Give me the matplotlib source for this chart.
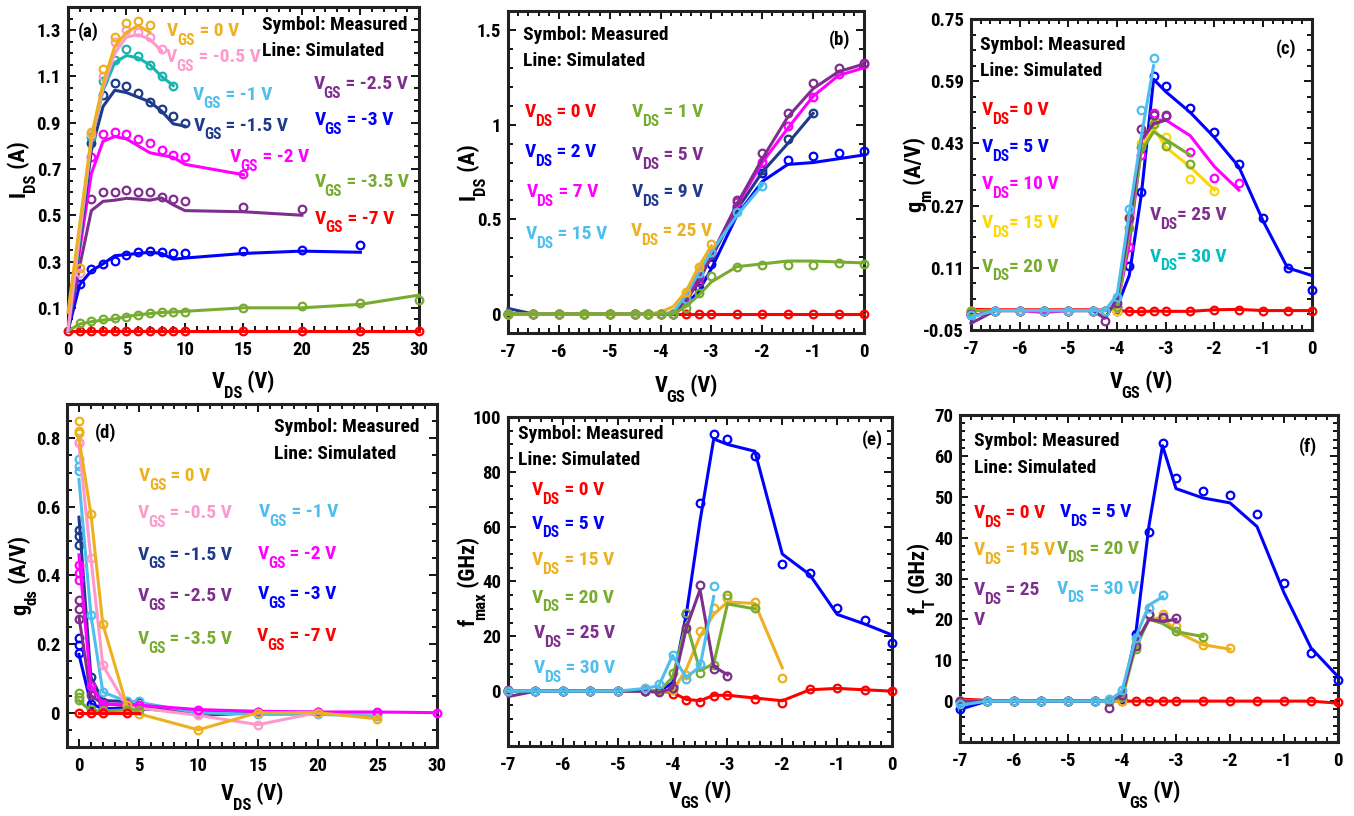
import numpy as np
import matplotlib
matplotlib.use('Agg')
import matplotlib.pyplot as plt
import matplotlib.transforms as mtransforms
from matplotlib import font_manager as fm
from matplotlib.ticker import AutoMinorLocator, FuncFormatter

# narrow bold sans for everything (Helvetica-condensed look)
have = {f.name for f in fm.fontManager.ttflist}
narrow = next((n for n in ['Roboto Condensed', 'Liberation Sans Narrow', 'Open Sans Condensed',
                           'Noto Sans Condensed'] if n in have), 'Liberation Sans')
plt.rcParams['font.family'] = [narrow, 'DejaVu Sans']
plt.rcParams['font.weight'] = 'bold'
plt.rcParams['axes.unicode_minus'] = False

#---- MATLAB-ish colours ----
c_red = '#FF0000'
c_blue = '#0000FF'
c_navy = '#1F3A8A'
c_mag = '#FF00FF'
c_purp = '#7E2F8E'
c_green = '#77AC30'
c_orng = '#EDB120'
c_pink = '#FF99CC'
c_lblue = '#4DBEEE'
c_teal = '#17B5B0'
c_yell = '#FFD700'
c_cyan = '#00BFBF'

# ---------------- (a) I_DS vs V_DS ----------------
a_vgs0_xm = [1, 2, 3, 4, 5, 6, 7]
a_vgs0_ym = [0.27, 0.86, 1.13, 1.27, 1.33, 1.34, 1.32]
a_vgs0_xs = [0, 1, 2, 3, 4, 5, 6, 7]
a_vgs0_ys = [0.08, 0.46, 0.84, 1.07, 1.23, 1.29, 1.32, 1.29]

a_vgs05_xm = [1, 2, 3, 4, 5, 6, 7, 8]
a_vgs05_ym = [0.25, 0.85, 1.10, 1.25, 1.30, 1.29, 1.27, 1.22]
a_vgs05_xs = [0, 1, 2, 3, 4, 5, 6, 7, 8]
a_vgs05_ys = [0.0, 0.42, 0.82, 1.05, 1.20, 1.27, 1.28, 1.26, 1.21]

a_vgs1_xm = [2, 3, 4, 5, 6, 7, 8, 9]
a_vgs1_ym = [0.84, 1.08, 1.17, 1.22, 1.19, 1.15, 1.10, 1.06]
a_vgs1_xs = [0, 1, 2, 3, 4, 5, 6, 7, 8, 9]
a_vgs1_ys = [0.0, 0.40, 0.82, 1.04, 1.16, 1.19, 1.18, 1.15, 1.10, 1.06]

a_vgs15_xm = [2, 3, 4, 5, 6, 7, 8, 9, 10]
a_vgs15_ym = [0.81, 1.02, 1.07, 1.06, 1.03, 0.99, 0.96, 0.93, 0.90]
a_vgs15_xs = [0, 1, 2, 3, 4, 5, 6, 7, 8, 9, 10]
a_vgs15_ys = [0.0, 0.38, 0.78, 0.97, 1.04, 1.03, 1.01, 0.99, 0.95, 0.895, 0.885]

a_vgs2_xm = [2, 3, 4, 5, 6, 7, 8, 9, 10, 15]
a_vgs2_ym = [0.75, 0.85, 0.86, 0.85, 0.83, 0.81, 0.78, 0.76, 0.75, 0.68]
a_vgs2_xs = [0, 1, 2, 3, 4, 5, 6, 7, 8, 9, 10, 15]
a_vgs2_ys = [0.0, 0.35, 0.68, 0.82, 0.84, 0.83, 0.80, 0.77, 0.76, 0.75, 0.72, 0.675]

a_vgs25_xm = [2, 3, 4, 5, 6, 7, 8, 9, 10, 15, 20]
a_vgs25_ym = [0.57, 0.60, 0.60, 0.61, 0.60, 0.60, 0.58, 0.57, 0.56, 0.535, 0.527]
a_vgs25_xs = [0, 1, 2, 3, 4, 5, 6, 7, 8, 9, 10, 15, 20]
a_vgs25_ys = [0.0, 0.28, 0.52, 0.56, 0.565, 0.573, 0.57, 0.565, 0.575, 0.545, 0.52, 0.515, 0.50]

a_vgs3_xm = [1, 2, 3, 4, 5, 6, 7, 8, 9, 10, 15, 20, 25]
a_vgs3_ym = [0.205, 0.268, 0.29, 0.304, 0.33, 0.34, 0.344, 0.341, 0.337, 0.337, 0.344, 0.349, 0.37]
a_vgs3_xs = [0, 1, 2, 3, 4, 5, 6, 7, 8, 9, 10, 15, 20, 25]
a_vgs3_ys = [0.0, 0.20, 0.26, 0.29, 0.325, 0.33, 0.335, 0.34, 0.335, 0.31, 0.315, 0.335, 0.345, 0.34]

a_vgs35_xm = [1, 2, 3, 4, 5, 6, 7, 8, 9, 10, 15, 20, 25, 30]
a_vgs35_ym = [0.035, 0.043, 0.05, 0.054, 0.06, 0.071, 0.078, 0.083, 0.083, 0.083, 0.10, 0.107, 0.122, 0.133]
a_vgs35_xs = [0, 1, 2, 3, 4, 5, 6, 7, 8, 9, 10, 15, 20, 25, 30]
a_vgs35_ys = [0.0, 0.03, 0.04, 0.047, 0.052, 0.062, 0.07, 0.075, 0.08, 0.082, 0.085, 0.10, 0.10, 0.115, 0.155]

a_vgs7_xm = [0, 1, 2, 3, 4, 5, 6, 7, 8, 9, 10, 15, 20, 25, 30]
a_vgs7_ym = [0.0] * 15
a_vgs7_xs = [0, 30]
a_vgs7_ys = [0.0, 0.0]

# ---------------- (b) I_DS vs V_GS ----------------
vg = [-7, -6.5, -6, -5.5, -5, -4.5, -4.25, -4, -3.75, -3.5, -3.25, -3, -2.5, -2, -1.5, -1, -0.5, 0]

b_vds0_m = [0.0] * 18
b_vds0_s = [0.0] * 18
b_vds1_m = [0, 0, 0, 0, 0, 0, 0, 0, 0, 0.03, 0.11, 0.20, 0.246, 0.257, 0.26, 0.26, 0.27, 0.265]
b_vds1_s = [0, 0, 0, 0, 0, 0, 0, 0, 0, 0.04, 0.10, 0.17, 0.25, 0.265, 0.28, 0.28, 0.275, 0.27]
b_vds2_m = [0, 0, 0, 0, 0, 0, 0, 0, 0, 0.07, 0.137, 0.264, 0.56, 0.744, 0.814, 0.837, 0.853, 0.862]
b_vds2_s = [0, 0, 0, 0, 0, 0, 0, 0, 0, 0.05, 0.12, 0.24, 0.52, 0.70, 0.79, 0.80, 0.82, 0.84]
b_vds5_m = [0, 0, 0, 0, 0, 0, 0, 0, 0, 0.08, 0.17, 0.33, 0.603, 0.849, 1.06, 1.219, 1.298, 1.328]
b_vds5_s = [0, 0, 0, 0, 0, 0, 0, 0, 0, 0.07, 0.17, 0.31, 0.58, 0.82, 1.04, 1.19, 1.28, 1.32]
b_vds7_m = [0, 0, 0, 0, 0, 0, 0, 0, 0, 0.09, 0.19, 0.32, 0.594, 0.805, 0.993, 1.148, 1.268, 1.32]
b_vds7_s = [0, 0, 0, 0, 0, 0, 0, 0, 0, 0.08, 0.18, 0.31, 0.57, 0.80, 0.98, 1.15, 1.26, 1.30]
b_vds9_m = [0, 0, 0, 0, 0, 0, 0, 0, 0, 0.09, 0.20, 0.31, 0.568, 0.761, 0.923, 1.06]
b_vds9_s = [0.03, 0, 0, 0, 0, 0, 0, 0, 0, 0.08, 0.19, 0.30, 0.55, 0.75, 0.90, 1.06]
b_vds15_m = [0, 0, 0, 0, 0, 0, 0, 0, 0, 0.08, 0.216, 0.33, 0.54, 0.677]
b_vds15_s = [0, 0, 0, 0, 0, 0, 0, 0, 0.01, 0.10, 0.22, 0.33, 0.52, 0.68]
b_vds25_m = [0, 0, 0, 0, 0, 0, 0, 0, 0, 0.114, 0.251, 0.369]
b_vds25_s = [0, 0, 0, 0, 0, 0, 0, 0.01, 0.04, 0.12, 0.25, 0.36]

# ---------------- (c) g_m vs V_GS ----------------
c_vds0_m = [0, 0, 0, 0, 0, 0, 0, 0.001, -0.001, -0.001, 0.0, 0.0, 0.0, 0.002, 0.002, 0.0, 0.0, 0.0]
c_vds0_s = [0.003, 0.002, 0.002, 0.002, 0.002, 0.002, 0.001, 0.0, -0.002, -0.003, -0.001, -0.002, -0.002, 0.002, 0.003, 0.0, 0.0, 0.0]
c_vds5_m = [-0.011, 0, 0, 0, 0, 0, 0, 0.0, 0.115, 0.304, 0.603, 0.577, 0.522, 0.46, 0.376, 0.239, 0.11, 0.053]
c_vds5_s = [-0.015, 0, 0, 0, 0, 0, 0, 0.01, 0.09, 0.30, 0.595, 0.563, 0.51, 0.445, 0.37, 0.23, 0.11, 0.09]
c_vds10_m = [-0.01, 0, 0, 0, 0, 0, 0, 0.01, 0.164, 0.40, 0.507, 0.50, 0.409, 0.34, 0.327]
c_vds10_s = [-0.015, 0, 0, -0.005, 0, 0, 0, 0.01, 0.17, 0.42, 0.49, 0.49, 0.45, 0.37, 0.31]
c_vds15_m = [0, 0, 0, 0, 0, 0, 0, -0.002, 0.24, 0.43, 0.486, 0.447, 0.338, 0.307]
c_vds15_s = [0, 0, 0, 0, 0, 0, 0, 0.0, 0.21, 0.42, 0.47, 0.42, 0.37, 0.31]
c_vds20_m = [0, 0, 0, 0, 0, 0, 0, 0.01, 0.213, 0.42, 0.481, 0.423, 0.376]
c_vds20_s = [0, 0, 0, 0, 0, 0, 0, 0.01, 0.20, 0.41, 0.46, 0.44, 0.40]
c_vds25_m = [-0.01, 0, 0, 0, 0, 0, -0.026, 0.02, 0.237, 0.466, 0.503, 0.503]
c_vds25_s = [-0.033, 0, 0, 0, 0, 0, -0.02, 0.03, 0.22, 0.44, 0.48, 0.49]
c_vds30_m = [-0.011, 0, 0, 0, 0, 0, 0.0, 0.036, 0.26, 0.517, 0.65]
c_vds30_s = [-0.017, 0, 0, 0, 0, 0, 0.0, 0.04, 0.25, 0.45, 0.63]

# ---------------- (d) g_ds vs V_DS ----------------
d_vgs0_xm = [0, 0, 0, 1, 2, 4, 5, 10, 15, 20, 25]
d_vgs0_ym = [0.85, 0.82, 0.815, 0.58, 0.258, 0.021, -0.003, -0.05, 0.0, 0.0, -0.018]
d_vgs0_xs = [0, 1, 2, 4, 5, 10, 15, 20, 25]
d_vgs0_ys = [0.80, 0.58, 0.258, 0.021, -0.003, -0.05, 0.0, 0.0, -0.018]
d_vgs05_xm = [0, 0, 1, 2, 4, 5, 10, 15, 20, 25]
d_vgs05_ym = [0.79, 0.785, 0.45, 0.138, 0.02, 0.014, -0.008, -0.035, 0.0, 0.0]
d_vgs05_xs = [0, 1, 2, 4, 5, 10, 15, 20, 25]
d_vgs05_ys = [0.78, 0.45, 0.138, 0.02, 0.014, -0.008, -0.035, 0.0, 0.0]
d_vgs1_xm = [0, 0, 0, 1, 2, 4, 5, 10, 15, 20, 25]
d_vgs1_ym = [0.74, 0.72, 0.704, 0.285, 0.06, 0.034, 0.033, 0.0, -0.003, -0.003, -0.01]
d_vgs1_xs = [0, 1, 2, 4, 5, 10, 15, 20, 25]
d_vgs1_ys = [0.68, 0.285, 0.06, 0.033, 0.03, 0.0, -0.005, -0.005, -0.01]
d_vgs15_xm = [0, 0, 0, 1, 2, 4, 5, 10, 15, 20, 25]
d_vgs15_ym = [0.532, 0.514, 0.49, 0.104, 0.031, 0.03, 0.03, -0.005, 0.0, 0.0, 0.0]
d_vgs15_xs = [0, 1, 2, 4, 5, 10, 15, 20, 25]
d_vgs15_ys = [0.57, 0.104, 0.035, 0.033, 0.03, -0.008, 0.0, 0.0, 0.0]
d_vgs2_xm = [0, 0, 0, 1, 2, 4, 5, 10, 15, 20, 25, 30]
d_vgs2_ym = [0.431, 0.407, 0.387, 0.077, 0.026, 0.025, 0.022, 0.009, 0.003, 0.001, 0.002, 0.0]
d_vgs2_xs = [0, 1, 2, 4, 5, 10, 15, 20, 25, 30]
d_vgs2_ys = [0.46, 0.08, 0.025, 0.025, 0.022, 0.009, 0.004, 0.002, 0.002, 0.0]
d_vgs25_xm = [0, 0, 0, 1, 2, 4, 5, 10, 15, 20]
d_vgs25_ym = [0.329, 0.301, 0.272, 0.051, 0.026, 0.02, 0.02, -0.005, 0.001, 0.001]
d_vgs25_xs = [0, 1, 2, 4, 5, 10, 15, 20]
d_vgs25_ys = [0.28, 0.05, 0.026, 0.02, 0.02, -0.005, 0.001, 0.001]
d_vgs3_xm = [0, 0, 0, 1, 2, 4, 5, 10, 15, 20]
d_vgs3_ym = [0.217, 0.197, 0.173, 0.026, 0.012, 0.012, 0.012, 0.0, 0.0, 0.0]
d_vgs3_xs = [0, 1, 2, 4, 5, 10, 15, 20]
d_vgs3_ys = [0.17, 0.026, 0.012, 0.012, 0.012, 0.0, 0.0, 0.0]
d_vgs35_xm = [0, 0, 0, 1, 2, 4, 5]
d_vgs35_ym = [0.056, 0.046, 0.036, 0.01, 0.007, 0.007, 0.007]
d_vgs35_xs = [0, 1, 2, 4, 5]
d_vgs35_ys = [0.035, 0.005, 0.005, 0.008, 0.008]
d_vgs7_xm = [0, 1, 2, 4]
d_vgs7_ym = [0.0, 0.0, 0.0, 0.0]
d_vgs7_xs = [0, 1, 2, 4, 5]
d_vgs7_ys = [0.0, 0.0, 0.0, 0.0, 0.0]

# ---------------- (e) f_max vs V_GS ----------------
e_vds0_m = [0, 0, 0, 0, 0, 0, 0, -1.0, -3.4, -4.0, -1.6, -1.3, -2.8, -4.3, 0.9, 1.2, 0.5, -0.1]
e_vds0_s = [0, 0, 0, 0, 0, 0, 0, -0.5, -3.0, -3.5, -1.5, -1.5, -2.5, -3.5, 0.5, 1.0, 0.5, 0.0]
e_vds5_m = [0, 0, 0, 0, 0, 0, 0, 2.0, 28.2, 68.6, 93.9, 92.1, 85.6, 46.2, 43.1, 30.4, 25.8, 17.6]
e_vds5_s = [0, 0, 0, 0, 0, 0, 0, 3.0, 28.0, 62.0, 92.0, 90.0, 87.5, 50.0, 42.5, 28.0, 24.5, 20.5]
e_vds15_m = [0, 0, 0, 0, 0, 0, 0, 0.5, 6.0, 21.8, 30.3, 34.0, 32.5, 4.7]
e_vds15_s = [0, 0, 0, 0, 0, 0, 0, 0.0, 8.0, 20.0, 28.0, 32.5, 32.0, 8.5]
e_vds20_m = [0, 0, 0, 0, 0, 0, 0, 6.7, 28.6, 6.6, 9.5, 34.9, 30.3]
e_vds20_s = [0, 0, 0, 0, 0, 0, 0, 5.0, 25.0, 7.5, 10.0, 31.8, 30.0]
e_vds25_m = [0.5, 0, 0, 0, 0, 0, -0.4, 1.2, 23.0, 38.6, 8.2, 5.7]
e_vds25_s = [-2.0, 0, 0, 0, 0, 0, -0.5, 1.0, 23.0, 37.0, 9.0, 6.0]
e_vds30_m = [0, 0, 0, 0, 0, 1.0, 2.7, 13.3, 4.3, 10.0, 38.2]
e_vds30_s = [0, 0, 0, 0, 0, 1.0, 2.0, 13.0, 5.0, 9.0, 34.5]

# ---------------- (f) f_T vs V_GS ----------------
f_vds0_m = [0, 0, 0, 0, 0, 0, 0, 0, 0, 0, 0, 0, 0, 0, 0, 0, 0, -0.3]
f_vds0_s = [0.5, 0.2, 0, 0, 0, 0, 0, 0, 0, 0, 0, 0, 0, 0, 0, 0, 0, -0.5]
f_vds5_m = [-2.0, 0, 0, 0, 0, 0, 0, 0.5, 16.5, 41.3, 63.2, 54.5, 51.5, 50.4, 45.7, 29.0, 11.8, 5.2]
f_vds5_s = [-2.0, 0, 0, 0, 0, 0, 0, 1.0, 16.0, 43.0, 62.5, 52.0, 49.7, 48.5, 42.7, 26.5, 13.0, 6.0]
f_vds15_m = [0, 0, 0, 0, 0, 0, 0, 0.0, 14.0, 21.2, 21.2, 18.3, 13.8, 13.0]
f_vds15_s = [0, 0, 0, 0, 0, 0, 0, 0.0, 14.0, 20.0, 20.5, 17.0, 13.8, 12.7]
f_vds20_m = [0, 0, 0, 0, 0, 0, 0, 1.0, 12.8, 21.0, 20.3, 17.2, 15.7]
f_vds20_s = [0, 0, 0, 0, 0, 0, 0, 1.0, 13.0, 20.0, 19.0, 17.0, 15.8]
f_vds25_m = [0, 0, 0, 0, 0, 0, -1.7, 1.5, 13.6, 21.2, 20.6, 20.4]
f_vds25_s = [0, 0, 0, 0, 0, 0, 0.0, 1.5, 14.0, 20.0, 19.5, 20.0]
f_vds30_m = [-0.7, 0, 0, 0, 0, 0, 0.5, 2.8, 15.4, 22.9, 26.0]
f_vds30_s = [-1.0, 0, 0, 0, 0, 0, 0.0, 2.5, 15.5, 23.5, 25.5]


fig = plt.figure(figsize=(13.54, 8.16), dpi=100)
rend = fig.canvas.get_renderer()


def pair(ax, xm, ym, xs, ys, c):
    # line = simulated, open circle = measured
    ax.plot(xs, ys, '-', color=c, lw=2.2, clip_on=False, zorder=3)
    ax.plot(xm, ym, 'o', mfc='none', mec=c, mew=1.6, ms=5.5, clip_on=False, zorder=3)


def style(ax, xlim, ylim, xticks, yticks, fmt):
    ax.set_xlim(xlim)
    ax.set_ylim(ylim)
    ax.set_xticks(xticks)
    ax.set_yticks(yticks)
    ax.xaxis.set_minor_locator(AutoMinorLocator())
    ax.yaxis.set_minor_locator(AutoMinorLocator())
    ax.yaxis.set_major_formatter(FuncFormatter(lambda v, p: fmt % v))
    ax.xaxis.set_major_formatter(FuncFormatter(lambda v, p: '%g' % v))
    ax.tick_params(which='both', direction='in', top=True, right=True, width=1.3, colors='k')
    ax.tick_params(which='major', length=6, labelsize=13.5)
    ax.tick_params(axis='x', which='major', pad=7)
    ax.tick_params(axis='y', which='major', pad=5)
    ax.tick_params(which='minor', length=3.5)
    for lab in ax.get_xticklabels() + ax.get_yticklabels():
        lab.set_fontweight('bold')
    for s in ax.spines.values():
        s.set_linewidth(2.2)
        s.set_color('#222222')


def _w(s, fs):
    t = fig.text(0, 0, s, fontsize=fs, fontweight='bold')
    w = t.get_window_extent(rend).width
    t.remove()
    return w


def subtext(ax, x, y, head, sub, tail, c='k', size=14, base=None, rot=0, center=False,
            ox=0, oy=0, scale=0.75):
    # text with a big, low-sitting subscript: head + sub + tail
    base = ax.transData if base is None else base
    em = size * fig.dpi / 72.0
    ss = size * scale
    w1, w2, w3 = _w(head, size), _w(sub, ss), _w(tail, size)
    kern = -0.05 * em
    start = -(w1 + kern + w2 + w3) / 2 if center else 0
    pieces = [(head, size, start, 0),
              (sub, ss, start + w1 + kern, -0.45 * em),
              (tail, size, start + w1 + kern + w2, 0)]
    for s, fs, along, drop in pieces:
        dx, dy = (along, drop) if rot == 0 else (-drop, along)
        tr = mtransforms.offset_copy(base, fig=fig, x=dx + ox, y=dy + oy, units='dots')
        ax.text(x, y, s, transform=tr, fontsize=fs, color=c, fontweight='bold', rotation=rot,
                rotation_mode='anchor', ha='left', va='baseline', zorder=5, clip_on=False)


def vnote(ax, x, y, sub, tail, c):
    subtext(ax, x, y, 'V', sub, tail, c, size=14, scale=0.8)


def note(ax, x, y, s, c='k', size=14):
    ax.text(x, y, s, color=c, fontsize=size, fontweight='bold', ha='left', va='baseline', zorder=5)


def heads(ax, x, y1, y2, tag, xt, yt):
    note(ax, x, y1, 'Symbol: Measured')
    note(ax, x, y2, 'Line: Simulated')
    note(ax, xt, yt, tag, size=13.5)


def labels(ax, xl, yl, xoff, yoff):
    subtext(ax, 0.5, 0.0, xl[0], xl[1], xl[2], size=16, base=ax.transAxes, center=True, oy=xoff)
    subtext(ax, 0.0, 0.5, yl[0], yl[1], yl[2], size=16, base=ax.transAxes, rot=90, center=True, ox=yoff)


ax_a = fig.add_axes([0.0502, 0.5944, 0.2592, 0.3971])
ax_b = fig.add_axes([0.3752, 0.5919, 0.2629, 0.3946])
ax_c = fig.add_axes([0.7171, 0.5956, 0.2518, 0.3811])
ax_d = fig.add_axes([0.0495, 0.0846, 0.2733, 0.4203])
ax_e = fig.add_axes([0.3752, 0.0858, 0.2836, 0.4032])
ax_f = fig.add_axes([0.7090, 0.0907, 0.2792, 0.4007])

# (a)
pair(ax_a, a_vgs7_xm, a_vgs7_ym, a_vgs7_xs, a_vgs7_ys, c_red)
pair(ax_a, a_vgs35_xm, a_vgs35_ym, a_vgs35_xs, a_vgs35_ys, c_green)
pair(ax_a, a_vgs3_xm, a_vgs3_ym, a_vgs3_xs, a_vgs3_ys, c_blue)
pair(ax_a, a_vgs25_xm, a_vgs25_ym, a_vgs25_xs, a_vgs25_ys, c_purp)
pair(ax_a, a_vgs2_xm, a_vgs2_ym, a_vgs2_xs, a_vgs2_ys, c_mag)
pair(ax_a, a_vgs15_xm, a_vgs15_ym, a_vgs15_xs, a_vgs15_ys, c_navy)
pair(ax_a, a_vgs1_xm, a_vgs1_ym, a_vgs1_xs, a_vgs1_ys, c_teal)
pair(ax_a, a_vgs05_xm, a_vgs05_ym, a_vgs05_xs, a_vgs05_ys, c_pink)
pair(ax_a, a_vgs0_xm, a_vgs0_ym, a_vgs0_xs, a_vgs0_ys, c_orng)
style(ax_a, (0, 30), (0, 1.4), np.arange(0, 31, 5), np.arange(0.1, 1.31, 0.2), '%.1f')
labels(ax_a, ('V', 'DS', ' (V)'), ('I', 'DS', ' (A)'), -57, -43)
heads(ax_a, 16.6, 1.30, 1.19, '(a)', 0.85, 1.27)
vnote(ax_a, 8.45, 1.275, 'GS', ' = 0 V', c_orng)
vnote(ax_a, 8.37, 1.16, 'GS', ' = -0.5 V', c_pink)
vnote(ax_a, 10.67, 1.0, 'GS', ' = -1 V', c_lblue)
vnote(ax_a, 10.73, 0.866, 'GS', ' = -1.5 V', c_navy)
vnote(ax_a, 13.86, 0.729, 'GS', ' = -2 V', c_mag)
vnote(ax_a, 20.98, 1.046, 'GS', ' = -2.5 V', c_purp)
vnote(ax_a, 21.06, 0.888, 'GS', ' = -3 V', c_blue)
vnote(ax_a, 21.06, 0.622, 'GS', ' = -3.5 V', c_green)
vnote(ax_a, 21.12, 0.464, 'GS', ' = -7 V', c_red)

# (b)
pair(ax_b, vg, b_vds0_m, vg, b_vds0_s, c_red)
pair(ax_b, vg, b_vds2_m, vg, b_vds2_s, c_blue)
pair(ax_b, vg[:16], b_vds9_m, vg[:16], b_vds9_s, c_navy)
pair(ax_b, vg, b_vds7_m, vg, b_vds7_s, c_mag)
pair(ax_b, vg, b_vds5_m, vg, b_vds5_s, c_purp)
pair(ax_b, vg[:14], b_vds15_m, vg[:14], b_vds15_s, c_lblue)
pair(ax_b, vg[:12], b_vds25_m, vg[:12], b_vds25_s, c_orng)
pair(ax_b, vg, b_vds1_m, vg, b_vds1_s, c_green)
style(ax_b, (-7, 0), (-0.1, 1.6), np.arange(-7, 0.1, 1), [0, 0.5, 1, 1.5], '%g')
labels(ax_b, ('V', 'GS', ' (V)'), ('I', 'DS', ' (A)'), -59, -33)
heads(ax_b, -6.70, 1.447, 1.31, '(b)', -0.70, 1.42)
vnote(ax_b, -6.67, 1.04, 'DS', ' = 0 V', c_red)
vnote(ax_b, -4.57, 1.04, 'DS', ' = 1 V', c_green)
vnote(ax_b, -6.67, 0.828, 'DS', ' = 2 V', c_blue)
vnote(ax_b, -4.57, 0.814, 'DS', ' = 5 V', c_purp)
vnote(ax_b, -6.64, 0.617, 'DS', ' = 7 V', c_mag)
vnote(ax_b, -4.57, 0.617, 'DS', ' = 9 V', c_navy)
vnote(ax_b, -6.65, 0.396, 'DS', ' = 15 V', c_lblue)
vnote(ax_b, -4.58, 0.413, 'DS', ' = 25 V', c_orng)

# (c)
pair(ax_c, vg, c_vds0_m, vg, c_vds0_s, c_red)
pair(ax_c, vg, c_vds5_m, vg, c_vds5_s, c_blue)
pair(ax_c, vg[:15], c_vds10_m, vg[:15], c_vds10_s, c_mag)
pair(ax_c, vg[:14], c_vds15_m, vg[:14], c_vds15_s, c_yell)
pair(ax_c, vg[:13], c_vds20_m, vg[:13], c_vds20_s, c_green)
pair(ax_c, vg[:12], c_vds25_m, vg[:12], c_vds25_s, c_purp)
pair(ax_c, vg[:11], c_vds30_m, vg[:11], c_vds30_s, c_lblue)
style(ax_c, (-7, 0), (-0.05, 0.75), np.arange(-7, 0.1, 1), np.arange(-0.05, 0.76, 0.16), '%.2f')
labels(ax_c, ('V', 'GS', ' (V)'), ('g', 'm', ' (A/V)'), -58, -50)
heads(ax_c, -6.82, 0.67, 0.603, '(c)', -0.73, 0.661)
vnote(ax_c, -6.78, 0.503, 'DS', '= 0 V', c_red)
vnote(ax_c, -6.78, 0.408, 'DS', '= 5 V', c_blue)
vnote(ax_c, -6.78, 0.312, 'DS', '= 10 V', c_mag)
vnote(ax_c, -6.78, 0.213, 'DS', '= 15 V', c_yell)
vnote(ax_c, -6.78, 0.10, 'DS', '= 20 V', c_green)
vnote(ax_c, -3.33, 0.233, 'DS', '= 25 V', c_purp)
vnote(ax_c, -3.33, 0.126, 'DS', '= 30 V', c_cyan)

# (d)
pair(ax_d, d_vgs3_xm, d_vgs3_ym, d_vgs3_xs, d_vgs3_ys, c_blue)
pair(ax_d, d_vgs15_xm, d_vgs15_ym, d_vgs15_xs, d_vgs15_ys, c_navy)
pair(ax_d, d_vgs25_xm, d_vgs25_ym, d_vgs25_xs, d_vgs25_ys, c_purp)
pair(ax_d, d_vgs1_xm, d_vgs1_ym, d_vgs1_xs, d_vgs1_ys, c_lblue)
pair(ax_d, d_vgs05_xm, d_vgs05_ym, d_vgs05_xs, d_vgs05_ys, c_pink)
pair(ax_d, d_vgs2_xm, d_vgs2_ym, d_vgs2_xs, d_vgs2_ys, c_mag)
pair(ax_d, d_vgs0_xm, d_vgs0_ym, d_vgs0_xs, d_vgs0_ys, c_orng)
pair(ax_d, d_vgs35_xm, d_vgs35_ym, d_vgs35_xs, d_vgs35_ys, c_green)
pair(ax_d, d_vgs7_xm, d_vgs7_ym, d_vgs7_xs, d_vgs7_ys, c_red)
style(ax_d, (-1, 30), (-0.1, 0.9), np.arange(0, 31, 5), np.arange(0, 0.81, 0.2), '%g')
labels(ax_d, ('V', 'DS', ' (V)'), ('g', 'ds', ' (A/V)'), -53, -41)
heads(ax_d, 16.3, 0.817, 0.74, '(d)', 1.37, 0.80)
vnote(ax_d, 5.0, 0.675, 'GS', ' = 0 V', c_orng)
vnote(ax_d, 4.92, 0.568, 'GS', ' = -0.5 V', c_pink)
vnote(ax_d, 15.06, 0.571, 'GS', ' = -1 V', c_lblue)
vnote(ax_d, 4.92, 0.446, 'GS', ' = -1.5 V', c_navy)
vnote(ax_d, 14.97, 0.448, 'GS', ' = -2 V', c_mag)
vnote(ax_d, 4.92, 0.326, 'GS', ' = -2.5 V', c_purp)
vnote(ax_d, 14.97, 0.331, 'GS', ' = -3 V', c_blue)
vnote(ax_d, 4.92, 0.20, 'GS', ' = -3.5 V', c_green)
vnote(ax_d, 14.9, 0.209, 'GS', ' = -7 V', c_red)

# (e)
pair(ax_e, vg, e_vds0_m, vg, e_vds0_s, c_red)
pair(ax_e, vg, e_vds5_m, vg, e_vds5_s, c_blue)
pair(ax_e, vg[:14], e_vds15_m, vg[:14], e_vds15_s, c_orng)
pair(ax_e, vg[:13], e_vds20_m, vg[:13], e_vds20_s, c_green)
pair(ax_e, vg[:12], e_vds25_m, vg[:12], e_vds25_s, c_purp)
pair(ax_e, vg[:11], e_vds30_m, vg[:11], e_vds30_s, c_lblue)
style(ax_e, (-7, 0), (-20, 100), np.arange(-7, 0.1, 1), np.arange(0, 101, 20), '%g')
labels(ax_e, ('V', 'GS', ' (V)'), ('f', 'max', ' (GHz)'), -52, -33)
heads(ax_e, -6.81, 92.1, 82.4, '(e)', -0.55, 89.7)
vnote(ax_e, -6.56, 71.4, 'DS', ' = 0 V', c_red)
vnote(ax_e, -6.56, 59.3, 'DS', ' = 5 V', c_blue)
vnote(ax_e, -6.56, 45.9, 'DS', ' = 15 V', c_orng)
vnote(ax_e, -6.56, 32.3, 'DS', ' = 20 V', c_green)
vnote(ax_e, -6.53, 19.4, 'DS', ' = 25 V', c_purp)
vnote(ax_e, -6.53, 6.7, 'DS', ' = 30 V', c_lblue)

# (f)
pair(ax_f, vg, f_vds0_m, vg, f_vds0_s, c_red)
pair(ax_f, vg, f_vds5_m, vg, f_vds5_s, c_blue)
pair(ax_f, vg[:14], f_vds15_m, vg[:14], f_vds15_s, c_orng)
pair(ax_f, vg[:13], f_vds20_m, vg[:13], f_vds20_s, c_green)
pair(ax_f, vg[:12], f_vds25_m, vg[:12], f_vds25_s, c_purp)
pair(ax_f, vg[:11], f_vds30_m, vg[:11], f_vds30_s, c_lblue)
style(ax_f, (-7, 0), (-10, 70), np.arange(-7, 0.1, 1), np.arange(0, 71, 10), '%g')
labels(ax_f, ('V', 'GS', ' (V)'), ('f', 'T', ' (GHz)'), -56, -35)
heads(ax_f, -6.74, 62.3, 55.7, '(f)', -0.73, 61.0)
vnote(ax_f, -6.75, 44.7, 'DS', ' = 0 V', c_red)
vnote(ax_f, -5.16, 45.1, 'DS', ' = 5 V', c_blue)
vnote(ax_f, -6.75, 35.7, 'DS', ' = 15 V', c_orng)
vnote(ax_f, -5.20, 36.1, 'DS', ' = 20 V', c_green)
vnote(ax_f, -6.75, 25.9, 'DS', ' = 25', c_purp)
note(ax_f, -6.75, 18.7, 'V', c_purp)
vnote(ax_f, -5.20, 26.3, 'DS', ' = 30 V', c_lblue)

fig.savefig('out.png', dpi=100)
